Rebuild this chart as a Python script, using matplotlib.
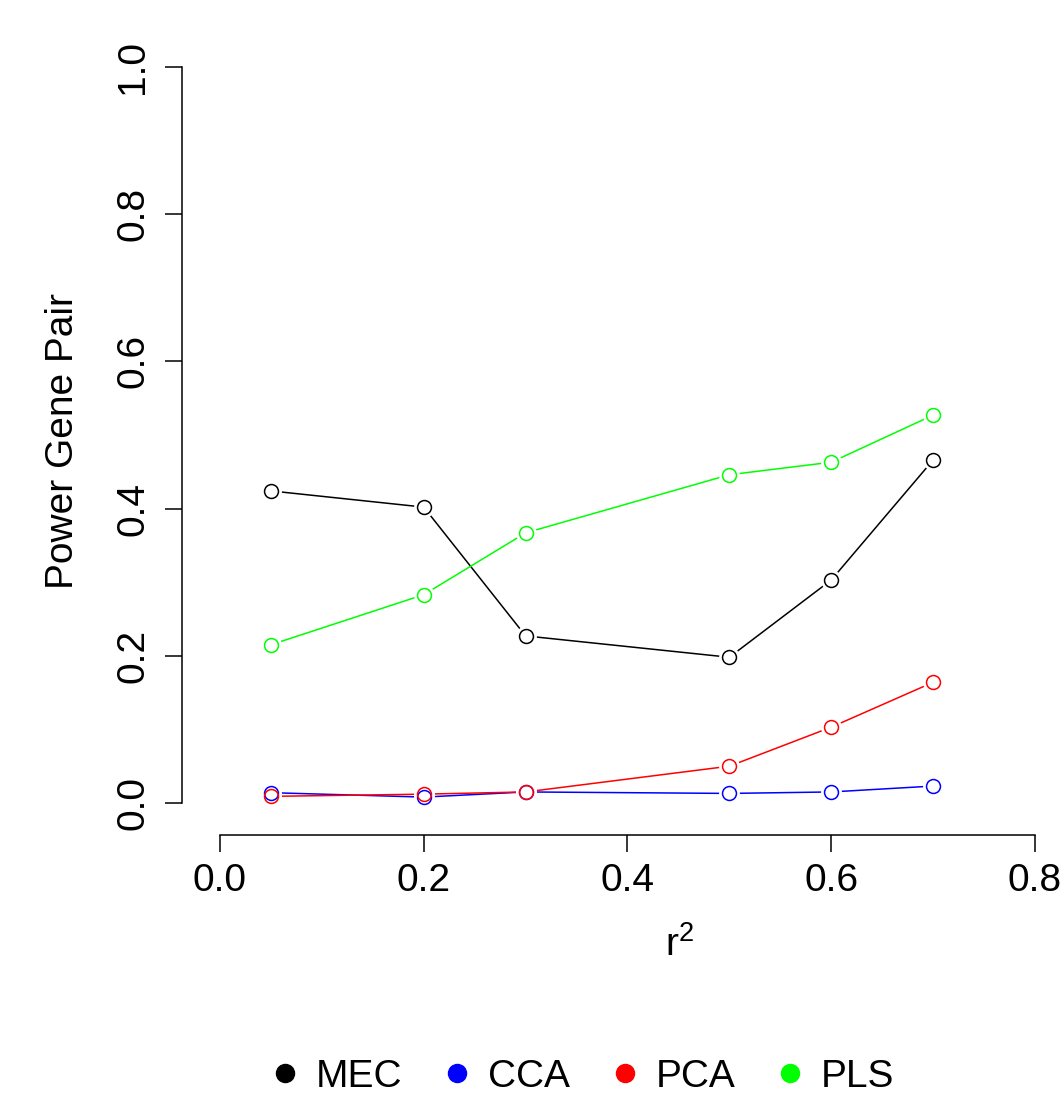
import matplotlib
matplotlib.use("Agg")
import matplotlib.pyplot as plt
from matplotlib.lines import Line2D

plt.rcParams['font.family'] = ['Liberation Sans', 'DejaVu Sans']
plt.rcParams['mathtext.fontset'] = 'custom'
plt.rcParams['mathtext.rm'] = 'Liberation Sans'

r2 = [0.05, 0.2, 0.3, 0.5, 0.6, 0.7]
mec = [0.424, 0.402, 0.227, 0.198, 0.303, 0.466]
cca = [0.014, 0.008, 0.015, 0.013, 0.015, 0.023]
pca = [0.009, 0.012, 0.015, 0.050, 0.103, 0.164]
pls = [0.215, 0.283, 0.367, 0.446, 0.463, 0.527]

series = [("MEC", mec, "black"), ("CCA", cca, "blue"),
          ("PCA", pca, "red"), ("PLS", pls, "#00FF00")]

W, H = 1064, 1097
fig = plt.figure(figsize=(W / 100, H / 100), dpi=100)
ax = fig.add_axes([182 / W, (H - 835) / H, (W - 182) / W, (835 - 38) / H])

for name, vals, col in series:
    ax.plot(r2, vals, color=col, lw=1.1, zorder=2)
for name, vals, col in series:
    ax.plot(r2, vals, ls='none', marker='o', ms=15, mfc='white', mec='none', zorder=3)
for name, vals, col in series:
    ax.plot(r2, vals, ls='none', marker='o', ms=10, mfc='none', mec=col, mew=1.1, zorder=4)

ax.set_xlim(-0.0373, (W - 220) / 1018.75)
ax.set_ylim(-0.0435, 1.0394)
for s in ['top', 'right']:
    ax.spines[s].set_visible(False)
ax.spines['bottom'].set_bounds(0, 0.8)
ax.spines['left'].set_bounds(0, 1)
ax.spines['bottom'].set_linewidth(1.1)
ax.spines['left'].set_linewidth(1.1)

ax.set_xticks([0.0, 0.2, 0.4, 0.6, 0.8])
ax.set_xticklabels(["0.0", "0.2", "0.4", "0.6", "0.8"])
ax.set_yticks([0.0, 0.2, 0.4, 0.6, 0.8, 1.0])
ax.set_yticklabels(["0.0", "0.2", "0.4", "0.6", "0.8", "1.0"], rotation=90, va='center')
ax.tick_params(axis='both', length=12, width=1.1, labelsize=28, direction='out')
ax.tick_params(axis='x', pad=8)
ax.tick_params(axis='y', pad=10)

fig.text(680 / W, 1 - 945 / H, r"r$^2$", fontsize=28, ha='center', va='center')
fig.text(63 / W, 1 - 441 / H, "Power Gene Pair", fontsize=28, ha='center', va='center', rotation=90)

handles = [Line2D([], [], ls='none', marker='o', ms=13, mfc=col, mec=col) for _, _, col in series]
fig.legend(handles, [n for n, _, _ in series], loc='center', bbox_to_anchor=(580 / W, 1 - 1077 / H),
           ncol=4, frameon=False, fontsize=28, handletextpad=0.3, columnspacing=0.9, handlelength=1.0)

fig.savefig("out.png", dpi=100)
